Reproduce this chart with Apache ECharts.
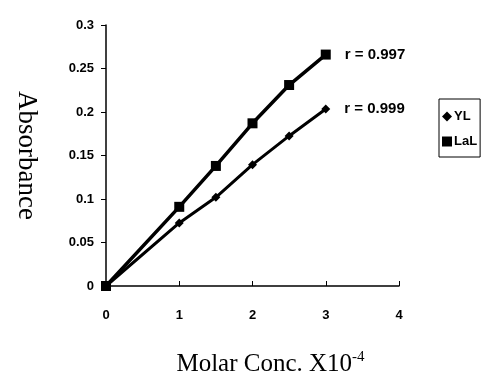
<!DOCTYPE html>
<html>
<head>
<meta charset="utf-8">
<script src="https://cdn.jsdelivr.net/npm/echarts@6/dist/echarts.min.js"></script>
<style>html,body{margin:0;padding:0;background:#fff;}#c{width:491px;height:372px;}</style>
</head>
<body>
<div id="c"></div>
<script>
var conc = [0, 1, 1.5, 2, 2.5, 3];
var ylValues = [0, 0.0725, 0.102, 0.1395, 0.1725, 0.2035];
var lalValues = [0, 0.091, 0.138, 0.187, 0.231, 0.266];
var seriesNames = ['YL', 'LaL'];
var rLabels = ['r = 0.999', 'r = 0.997'];
var xTicks = [0, 1, 2, 3, 4];
var yTicks = [0, 0.05, 0.1, 0.15, 0.2, 0.25, 0.3];

function pairs(xs, ys) { return xs.map(function (x, i) { return [x, ys[i]]; }); }
function withLabel(data, text) {
  return data.map(function (p, i) {
    if (i === data.length - 1) {
      return { value: p, label: { show: true, formatter: text } };
    }
    return p;
  });
}
var tickFont = { fontFamily: 'Liberation Sans', fontWeight: 'bold', fontSize: 13, color: '#000' };
var rFont = { fontFamily: 'Liberation Sans', fontWeight: 'bold', fontSize: 15, color: '#000' };
var chart = echarts.init(document.getElementById('c'));
chart.setOption({
  animation: false,
  backgroundColor: '#fff',
  grid: { left: 106, right: 92, top: 25, bottom: 86, containLabel: false, outerBoundsMode: 'none' },
  legend: {
    left: 439, top: 99, orient: 'vertical',
    borderColor: '#000', borderWidth: 1, padding: [11, 3, 9, 3], itemGap: 12,
    itemWidth: 10, itemHeight: 10,
    textStyle: { fontFamily: 'Liberation Sans', fontWeight: 'bold', fontSize: 13, color: '#000', padding: [0, 0, 0, -3] },
    data: [{ name: seriesNames[0], icon: 'diamond' }, { name: seriesNames[1], icon: 'rect' }]
  },
  xAxis: {
    type: 'value', min: 0, max: 4, interval: 1,
    axisLine: { lineStyle: { color: '#000', width: 1.5 } },
    axisTick: { show: true, inside: true, length: 5, lineStyle: { color: '#000' } },
    splitLine: { show: false },
    axisLabel: Object.assign({ margin: 23, formatter: function (v) { return xTicks.indexOf(v) >= 0 ? String(v) : ''; } }, tickFont),
    name: '{a|Molar Conc. X10}{s|-4}',
    nameLocation: 'middle', nameGap: 64,
    nameTextStyle: {
      padding: [0, 0, 0, 36],
      rich: {
        a: { fontFamily: 'Liberation Serif', fontSize: 25, color: '#000' },
        s: { fontFamily: 'Liberation Serif', fontSize: 15, color: '#000', verticalAlign: 'top', padding: [0, 0, 14, 0] }
      }
    }
  },
  yAxis: {
    type: 'value', min: 0, max: 0.3, interval: 0.05,
    axisLine: { show: true, lineStyle: { color: '#000', width: 1.5 } },
    axisTick: { show: true, length: 5, lineStyle: { color: '#000' } },
    splitLine: { show: false },
    axisLabel: Object.assign({ margin: 12, formatter: function (v) {
      for (var i = 0; i < yTicks.length; i++) if (Math.abs(yTicks[i] - v) < 1e-9) return String(yTicks[i]);
      return '';
    } }, tickFont),
    name: 'Absorbance', nameLocation: 'middle', nameRotate: -90, nameGap: 66,
    nameTextStyle: { fontFamily: 'Liberation Serif', fontSize: 27, color: '#000' }
  },
  series: [
    {
      name: seriesNames[0], type: 'line', data: withLabel(pairs(conc, ylValues), rLabels[0]),
      symbol: 'diamond', symbolSize: 9,
      lineStyle: { color: '#000', width: 3 }, itemStyle: { color: '#000' },
      label: Object.assign({ show: false, position: 'right', distance: 14 }, rFont),
      z: 3
    },
    {
      name: seriesNames[1], type: 'line', data: withLabel(pairs(conc, lalValues), rLabels[1]),
      symbol: 'rect', symbolSize: 10,
      lineStyle: { color: '#000', width: 3.5 }, itemStyle: { color: '#000' },
      label: Object.assign({ show: false, position: 'right', distance: 14 }, rFont),
      z: 3
    }
  ]
});
</script>
</body>
</html>
